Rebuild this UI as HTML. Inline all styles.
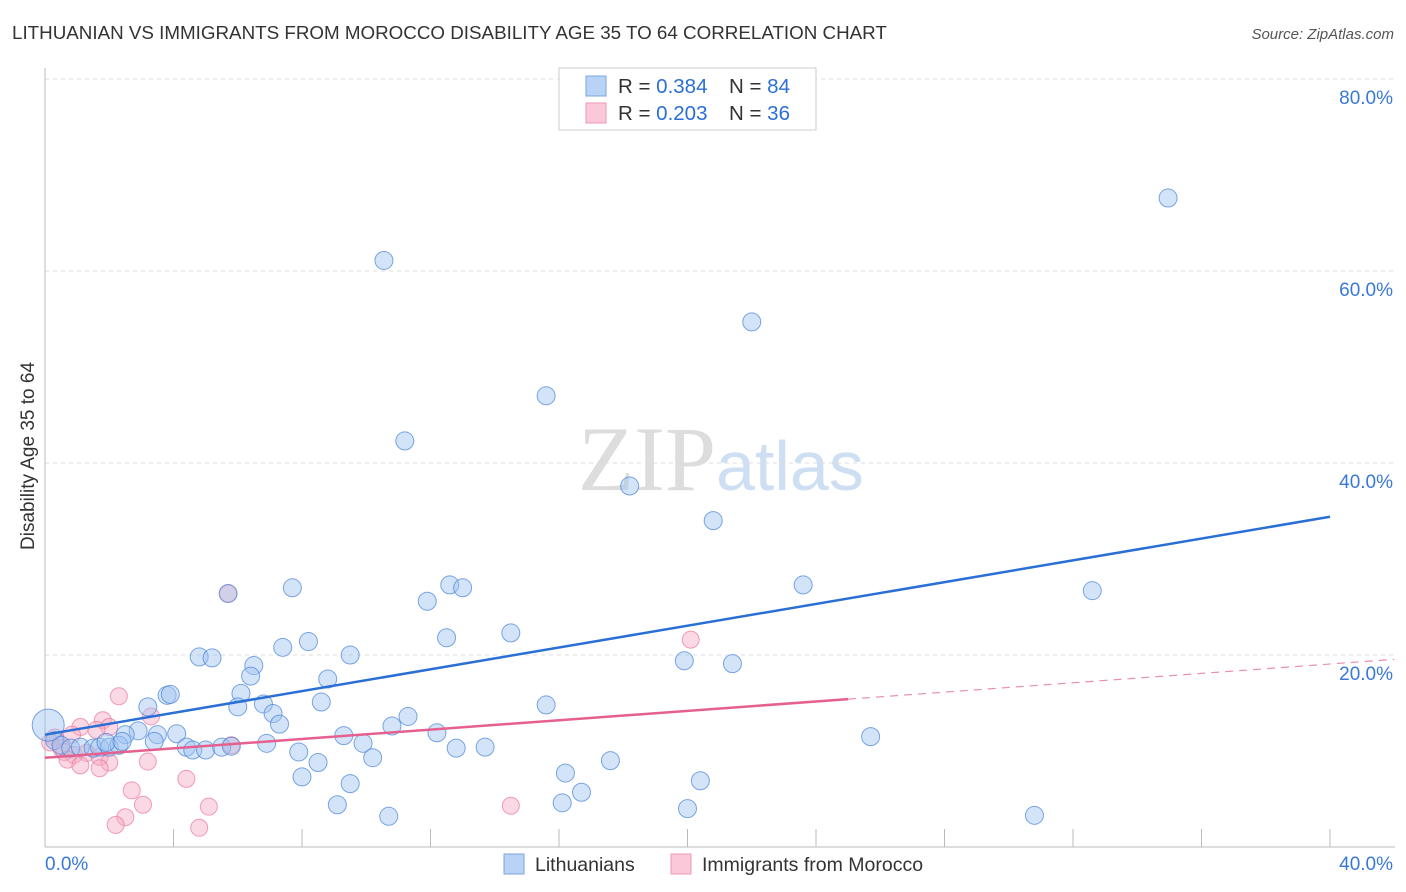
<!DOCTYPE html>
<html><head><meta charset="utf-8"><style>
body{margin:0;background:#fff;font-family:"Liberation Sans",sans-serif;}
svg{display:block}
</style></head><body>
<svg id="chart" width="1406" height="892">
<text x="12" y="39" font-size="18.8" fill="#333">LITHUANIAN VS IMMIGRANTS FROM MOROCCO DISABILITY AGE 35 TO 64 CORRELATION CHART</text>
<text x="1394" y="39" font-size="15" fill="#555" font-style="italic" text-anchor="end">Source: ZipAtlas.com</text>
<text x="34" y="456" font-size="19" fill="#333" text-anchor="middle" transform="rotate(-90 34 456)">Disability Age 35 to 64</text>
<text x="716" y="490" font-size="92" fill="#ddd" text-anchor="end" font-family="Liberation Serif,serif">ZIP</text>
<text x="716" y="490" font-size="70" fill="#cfdff3">atlas</text>
<g id="grid"></g><g id="axes"></g><g id="pts"></g><g id="lines"></g>
<rect x="559" y="68" width="257" height="62" fill="#fff" stroke="#ccc"/>
<rect x="586" y="76" width="20" height="20" fill="#b8d3f5" stroke="#7aa6e0"/>
<rect x="586" y="103" width="20" height="20" fill="#fac8d8" stroke="#ec9ab5"/>
<text x="618" y="93" font-size="20.5" fill="#333">R = <tspan fill="#2b6fd6">0.384</tspan><tspan x="729">N = </tspan><tspan fill="#2b6fd6">84</tspan></text>
<text x="618" y="120" font-size="20.5" fill="#333">R = <tspan fill="#2b6fd6">0.203</tspan><tspan x="729">N = </tspan><tspan fill="#2b6fd6">36</tspan></text>
<rect x="504" y="854" width="20" height="20" fill="#b8d3f5" stroke="#7aa6e0"/>
<text x="535" y="871" font-size="19.5" fill="#333">Lithuanians</text>
<rect x="671" y="854" width="20" height="20" fill="#fac8d8" stroke="#ec9ab5"/>
<text x="702" y="871" font-size="19.5" fill="#333">Immigrants from Morocco</text>
</svg>
<script>
const yTicks=[20,40,60,80];
const yTickLabels=["20.0%","40.0%","60.0%","80.0%"];
const xTicks=[4,8,12,16,20,24,28,32,36,40];
const blueX=[34.96,10.55,22.0,15.6,11.2,18.2,20.8,23.6,32.6,12.6,13.0,11.9,7.7,5.7,12.5,14.5,8.2,7.4,9.5,4.8,5.2,19.9,21.4,6.5,6.4,8.8,6.1,3.8,3.9,8.6,6.8,3.2,6.0,15.6,7.1,11.3,7.3,10.8,4.1,3.5,9.3,12.2,25.7,2.9,2.5,3.4,6.9,9.9,4.4,4.6,5.0,5.5,5.8,12.8,13.7,7.9,10.2,17.6,8.5,16.2,8.0,9.5,20.4,16.7,9.1,16.1,20.0,10.7,30.8,0.3,0.5,0.8,1.1,1.5,1.7,2.0,2.3,1.9,2.4,0.1];
const blueY=[67.6,61.1,54.7,47.0,42.3,37.6,34.0,27.3,26.7,27.3,27.0,25.6,27.0,26.4,21.8,22.3,21.4,20.8,20.0,19.8,19.7,19.4,19.1,18.9,17.8,17.5,16.0,15.8,15.9,15.1,14.9,14.6,14.6,14.8,13.9,13.6,12.8,12.6,11.8,11.7,11.6,11.9,11.5,12.1,11.7,11.0,10.8,10.8,10.4,10.1,10.1,10.4,10.5,10.3,10.4,9.9,9.3,9.0,8.8,7.7,7.3,6.6,6.9,5.7,4.4,4.6,4.0,3.2,3.3,11.1,10.6,10.3,10.4,10.3,10.4,10.4,10.6,10.9,11.0,12.7];
const pinkX=[5.7,20.1,2.3,3.3,1.8,1.1,2.0,1.6,0.84,0.3,0.16,0.5,0.6,0.9,1.3,1.7,0.7,1.1,2.0,1.7,3.2,5.8,4.4,2.7,3.05,2.5,2.2,5.1,4.8,14.5];
const pinkY=[26.4,21.6,15.7,13.6,13.2,12.5,12.5,12.2,11.7,11.4,10.9,10.3,9.9,9.6,9.8,9.4,9.1,8.5,8.8,8.2,8.9,10.6,7.1,5.9,4.4,3.1,2.3,4.2,2.0,4.3];
const blueTrend=[11.7,34.4];
const pinkTrend=[9.3,15.4];
const X=v=>45+v*32.125, Y=v=>847-v*9.6;
const NS="http://www.w3.org/2000/svg";
function mk(tag,parent,attrs){const e=document.createElementNS(NS,tag);for(const k in attrs)e.setAttribute(k,attrs[k]);document.getElementById(parent).appendChild(e);return e;}
yTicks.forEach((t,i)=>{
 const l=mk('line','grid',{x1:45,x2:1395,y1:Y(t),y2:Y(t),stroke:'#ddd','stroke-dasharray':'4 4'});
 
 
 const tx=mk('text','grid',{x:1393,y:Y(t)+25,'font-size':19,fill:'#3a78d8','text-anchor':'end'});
 tx.textContent=yTickLabels[i];
 
 
});
const ya=mk('line','axes',{x1:45,x2:45,y1:68,y2:847,stroke:'#bbb'});


const xa=mk('line','axes',{x1:45,x2:1395,y1:847,y2:847,stroke:'#bbb'});


xTicks.forEach(t=>{
 const l=mk('line','axes',{x1:X(t),x2:X(t),y1:829,y2:847,stroke:'#bbb'});
 
 
});
const xl0=mk('text','axes',{x:45,y:870,'font-size':19,fill:'#3a78d8'});xl0.textContent='0.0%';


const xl1=mk('text','axes',{x:1393,y:870,'font-size':19,fill:'#3a78d8','text-anchor':'end'});xl1.textContent='40.0%';


pinkX.forEach((v,i)=>{
 const c=mk('circle','pts',{cx:X(v),cy:Y(pinkY[i]),r:8.5,fill:'rgba(247,170,195,0.45)',stroke:'rgba(232,120,155,0.7)','stroke-width':1});
 
 
});
blueX.forEach((v,i)=>{
 const c=mk('circle','pts',{cx:X(v),cy:Y(blueY[i]),r:i==blueX.length-1?16:9,fill:'rgba(160,195,240,0.45)',stroke:'rgba(70,130,215,0.7)','stroke-width':1});
 
 
});
const bl=mk('line','lines',{x1:X(0),y1:Y(blueTrend[0]),x2:X(40),y2:Y(blueTrend[1]),stroke:'#2a6fd6','stroke-width':2.5});


const pl=mk('line','lines',{x1:X(0),y1:Y(pinkTrend[0]),x2:X(25),y2:Y(pinkTrend[1]),stroke:'#e5608e','stroke-width':2.5});


const s=(pinkTrend[1]-pinkTrend[0])/25;
const pd=mk('line','lines',{x1:X(25),y1:Y(pinkTrend[1]),x2:X(42),y2:Y(pinkTrend[0]+s*42),stroke:'#e890ad','stroke-width':1.2,'stroke-dasharray':'8 6'});


</script>
</body></html>
